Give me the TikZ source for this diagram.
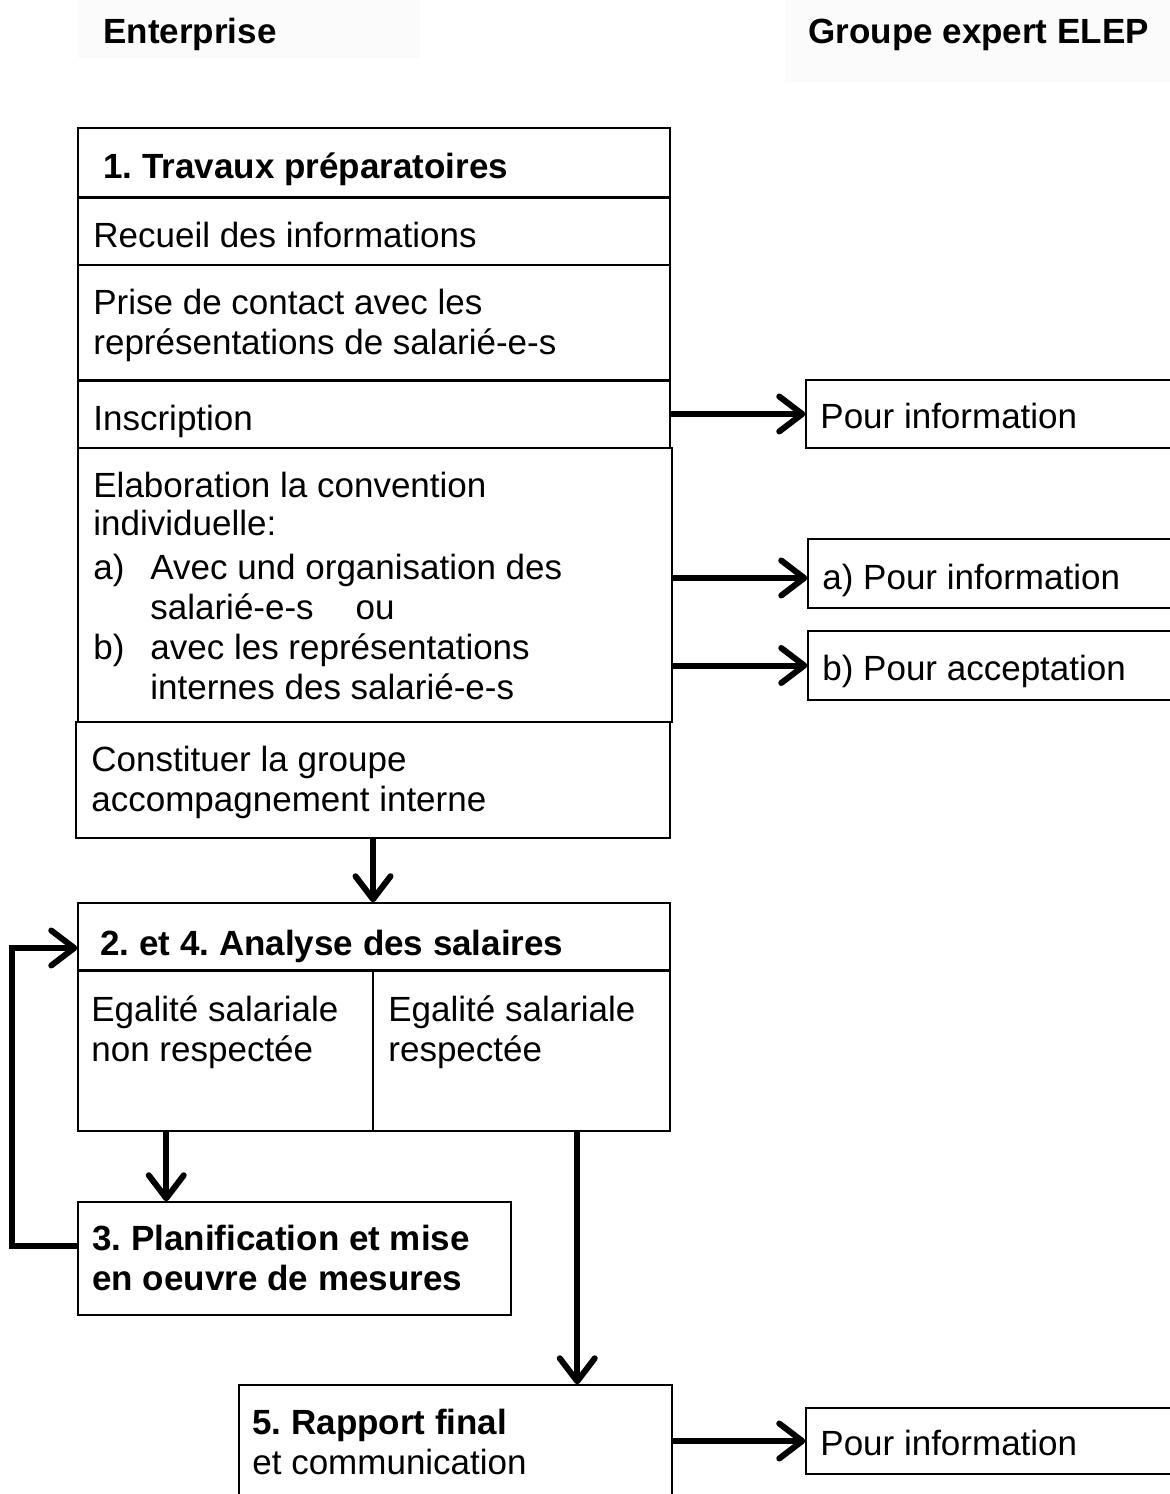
\documentclass[tikz,border=0pt]{standalone}
\usepackage{fontspec}
\setmainfont{Liberation Sans}
\usetikzlibrary{arrows.meta}
\frenchspacing
\begin{document}
\begin{tikzpicture}[x=0.5pt,y=-0.5pt,
  boxx/.style={draw, line width=0.75pt, fill=white, inner sep=0pt},
  hdr/.style={fill=black!1.5, draw=none, inner sep=0pt},
  txt/.style={anchor=west, inner sep=0pt, align=left, font=\fontsize{17.5}{20}\selectfont\frenchspacing},
  txtb/.style={txt, font=\fontsize{17.5}{20}\selectfont\bfseries\frenchspacing},
  divider/.style={line width=1.6pt},
  arr/.style={line width=3pt, -{Straight Barb[length=11.5pt,width=17.5pt,round]}}
]
\useasboundingbox (0,0) rectangle (1170,1494);
\clip (0,0) rectangle (1170,1494);
\fill[white] (0,0) rectangle (1170,1494);

% headers
\node[hdr, minimum width=171pt, minimum height=29pt] (hE) at (249,29) {};
\node[hdr, minimum width=195pt, minimum height=41pt] (hG) at (980,41) {};
\node[txtb] (tE) at (103,35) {\strut Enterprise};
\node[txtb] (tG) at (808,35) {\strut Groupe expert ELEP};

% box 1 stack
\node[boxx, minimum width=296pt, minimum height=34.5pt] (t1) at (374,162.5) {};
\node[boxx, minimum width=296pt, minimum height=34pt] (recueil) at (374,231) {};
\node[boxx, minimum width=296pt, minimum height=57.5pt] (prise) at (374,322.5) {};
\node[boxx, minimum width=296pt, minimum height=34pt] (inscr) at (374,414) {};
\node[boxx, minimum width=297pt, minimum height=137pt] (elab) at (375,585) {};
\node[boxx, minimum width=297pt, minimum height=58pt] (const) at (373,780) {};
\draw[divider] (t1.south west) -- (t1.south east);
\draw[divider] (prise.south west) -- (prise.south east);

\node[txtb] (t1txt) at (103,170.5) {\strut 1. Travaux préparatoires};
\node[txt] (recueiltxt) at (93,239.5) {\strut Recueil des informations};
\node[txt] (prisetxt) at (93,326.5) {\strut Prise de contact avec les\\représentations de salarié-e-s\strut};
\node[txt] (inscrtxt) at (93,422.5) {\strut Inscription};
\node[txt, font=\fontsize{17.5}{18}\selectfont] (elabtxt) at (93,509) {\strut Elaboration la convention\\individuelle:\strut};
\node[txt] (listtxt) at (93,631.5) {\strut\makebox[28.5pt][l]{a)}Avec und organisation des\\
  \hspace*{28.5pt}salarié-e-s\hspace{1.2em}ou\\
  \makebox[28.5pt][l]{b)}avec les représentations\\
  \hspace*{28.5pt}internes des salarié-e-s\strut};
\node[txt] (consttxt) at (91,783.5) {\strut Constituer la groupe\\accompagnement interne\strut};

% right column boxes
\node[boxx, minimum width=192pt, minimum height=34pt] (r1) at (998,414) {};
\node[boxx, minimum width=191pt, minimum height=34.5pt] (r2) at (999,573.5) {};
\node[boxx, minimum width=191pt, minimum height=34.5pt] (r3) at (999,665.5) {};
\node[boxx, minimum width=192pt, minimum height=33pt] (r4) at (998,1441) {};
\node[txt] (r1txt) at (820,420.5) {\strut Pour information};
\node[txt] (r2txt) at (822,581.5) {\strut a) Pour information};
\node[txt] (r3txt) at (822,672.5) {\strut b) Pour acceptation};
\node[txt] (r4txt) at (820,1447.5) {\strut Pour information};

% box 2
\node[boxx, minimum width=296pt, minimum height=33.5pt] (t2) at (374,936.5) {};
\node[boxx, minimum width=147.5pt, minimum height=80.5pt] (b2l) at (225.5,1050.5) {};
\node[boxx, minimum width=148.5pt, minimum height=80.5pt] (b2r) at (521.5,1050.5) {};
\draw[divider] (t2.south west) -- (t2.south east);
\node[txtb] (t2txt) at (100,947.5) {\strut 2. et 4. Analyse des salaires};
\node[txt] (b2ltxt) at (91,1033.5) {\strut Egalité salariale\\non respectée\strut};
\node[txt] (b2rtxt) at (388,1033.5) {\strut Egalité salariale\\respectée\strut};

% box 3
\node[boxx, minimum width=216.5pt, minimum height=56.5pt] (b3) at (294.5,1258.5) {};
\node[txtb] (b3txt) at (92,1262.5) {\strut 3. Planification et mise\\en oeuvre de mesures\strut};

% box 5
\node[boxx, minimum width=216.5pt, minimum height=67.5pt] (b5) at (455.5,1452.5) {};
\node[txt] (b5txt) at (252,1446.5) {\strut\textbf{5. Rapport final}\\et communication\strut};

% connectors
\draw[arr] (inscr.east) -- (r1.west);
\draw[arr] ([yshift=-2.25pt]r2.west -| elab.east) -- ([yshift=-2.25pt]r2.west);
\draw[arr] (r3.west -| elab.east) -- (r3.west);
\draw[arr] (r4.west -| b5.east) -- (r4.west);
\draw[arr] (const.south) -- (const.south |- t2.north);
\coordinate (c1) at ([xshift=44.5pt]b2l.south west);
\draw[arr] (c1) -- (c1 |- b3.north);
\coordinate (c2) at ([xshift=102.5pt]b2r.south west);
\draw[arr] (c2) -- (c2 |- b5.north);
\coordinate (fb) at (12,1100);
\draw[arr] ([yshift=6.25pt]b3.west) -| (fb) |- ([yshift=-5.75pt]t2.west);
\end{tikzpicture}
\end{document}
